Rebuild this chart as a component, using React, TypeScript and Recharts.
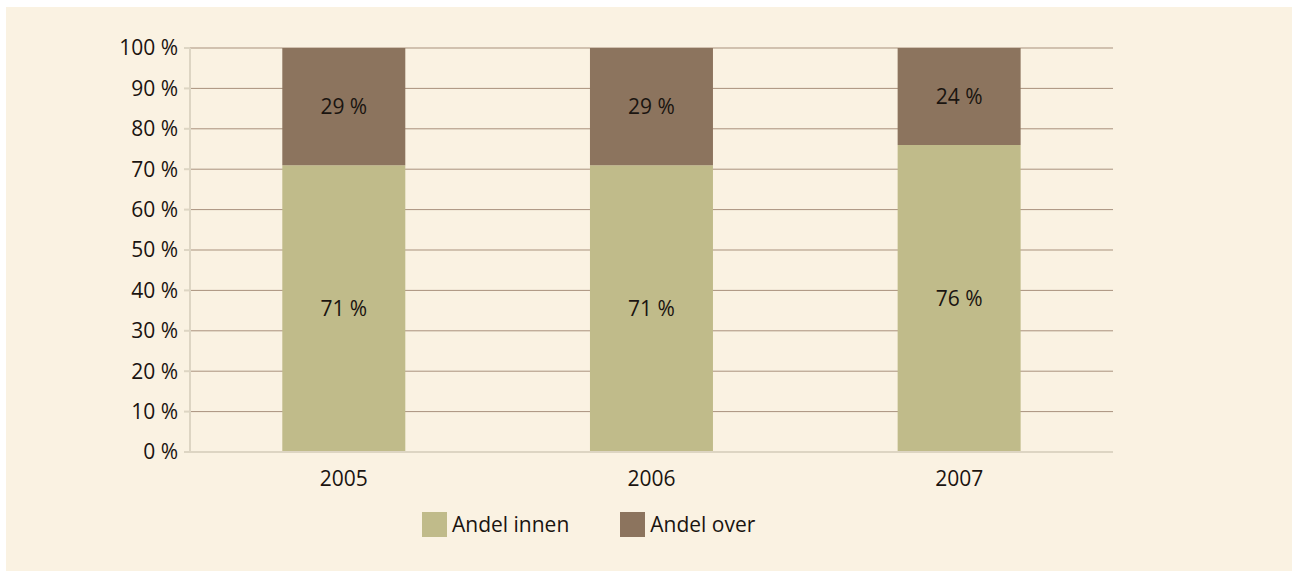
import React from "react";
import { BarChart, Bar, CartesianGrid, XAxis, YAxis, Legend, LabelList } from "recharts";

const years = ["2005", "2006", "2007"];
const andelInnen = [71, 71, 76];
const andelOver = [29, 29, 24];
const yTicks = [0, 10, 20, 30, 40, 50, 60, 70, 80, 90, 100];

const data = years.map((year, i) => ({ year, innen: andelInnen[i], over: andelOver[i] }));

const GREEN = "#c0bb8a";
const BROWN = "#8c745e";
const BG = "#faf2e2";
const AXIS = "#ddd5c3";
const GRID = "#a8917d";
const TEXT = "#1a1410";
const FONT = "'Open Sans', 'Noto Sans', sans-serif";
const FS = 21;

const legendItems = [
  { label: "Andel innen", color: GREEN },
  { label: "Andel over", color: BROWN },
];

const renderLegend = () => (
  <div style={{ display: "flex", alignItems: "center", height: 34, fontFamily: FONT, fontSize: FS, color: TEXT }}>
    {legendItems.map((item, i) => (
      <div key={item.label} style={{ display: "flex", alignItems: "center", marginRight: i === 0 ? 51 : 0 }}>
        <div style={{ width: 25, height: 25, background: item.color, marginRight: 5 }} />
        <span>{item.label}</span>
      </div>
    ))}
  </div>
);

const App: React.FC = () => (
  <div style={{ position: "absolute", left: 6, top: 7, width: 1286, height: 564, background: BG }}>
    <BarChart
      width={1286}
      height={564}
      data={data}
      margin={{ top: 41, right: 179, left: 0, bottom: 30 }}
      barCategoryGap="30%"
    >
      <CartesianGrid vertical={false} stroke={GRID} />
      <XAxis
        xAxisId="bounds"
        type="number"
        domain={[0, 3]}
        ticks={[0, 1, 2, 3]}
        allowDataOverflow
        height={0}
        tick={false}
        axisLine={false}
        tickLine={{ stroke: AXIS, strokeWidth: 2 }}
        tickSize={6}
      />
      <XAxis
        dataKey="year"
        height={55}
        axisLine={{ stroke: AXIS, strokeWidth: 2 }}
        tickLine={false}
        tickMargin={13}
        tick={{ fill: TEXT, fontSize: FS, fontFamily: FONT }}
      />
      <YAxis
        width={184}
        domain={[0, 100]}
        ticks={yTicks}
        tickFormatter={(v: number) => `${v} %`}
        axisLine={{ stroke: AXIS, strokeWidth: 2 }}
        tickLine={{ stroke: AXIS, strokeWidth: 2 }}
        tickSize={6}
        tickMargin={6}
        tick={{ fill: TEXT, fontSize: FS, fontFamily: FONT }}
      />
      <Legend
        verticalAlign="bottom"
        content={renderLegend}
        wrapperStyle={{ left: 416, width: "auto", height: 34 }}
      />
      <Bar dataKey="innen" name="Andel innen" stackId="a" fill={GREEN} isAnimationActive={false}>
        <LabelList dataKey="innen" position="center" formatter={(v: number) => `${v} %`} fill={TEXT} fontSize={FS} fontFamily={FONT} />
      </Bar>
      <Bar dataKey="over" name="Andel over" stackId="a" fill={BROWN} isAnimationActive={false}>
        <LabelList dataKey="over" position="center" formatter={(v: number) => `${v} %`} fill={TEXT} fontSize={FS} fontFamily={FONT} />
      </Bar>
    </BarChart>
  </div>
);

export default App;
